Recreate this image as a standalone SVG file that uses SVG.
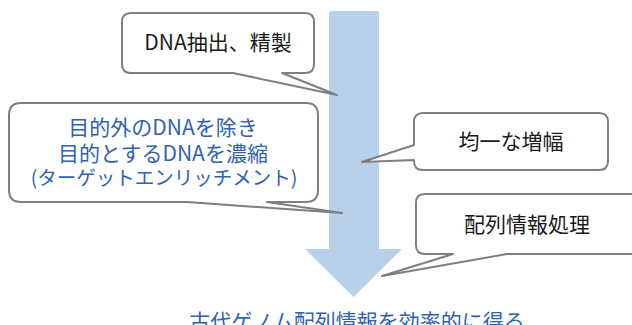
<svg xmlns="http://www.w3.org/2000/svg" width="632" height="325" viewBox="0 0 632 325">
<style>
.call{fill:#ffffff;stroke:#7f7f7f;stroke-width:2;stroke-linejoin:round}
.t{font-family:"Noto Sans CJK JP","Noto Sans",sans-serif;font-size:21px;text-anchor:middle}
.s{font-size:19.5px}
.k{fill:#1a1a1a}
.b{fill:#2f62b3}
</style>
<rect width="632" height="325" fill="#ffffff"/>
<g id="arrow">
<path d="M331,11 H377 Q379,11 379,13 V249 H402 L353.5,297 L305,249 H329 V13 Q329,11 331,11 Z" fill="#b8d0ea"/>
</g>
<g id="connectors"/>
<g id="n1">
<path class="call" d="M131,13 H305 Q314,13 314,22 V64 Q314,73 305,73 H282 L337,95 L233,73 H131 Q122,73 122,64 V22 Q122,13 131,13 Z"/>
<text class="t k" x="218" y="50">DNA抽出、精製</text>
</g>
<g id="n2">
<path class="call" d="M21,103 H306 Q318,103 318,115 V190 Q318,202 306,202 H267 L342,213 L187,202 H21 Q9,202 9,190 V115 Q9,103 21,103 Z"/>
<text class="t b" x="163" y="135">目的外のDNAを除き</text>
<text class="t b" x="163" y="161">目的とするDNAを濃縮</text>
<text class="t b s" x="164" y="185">(ターゲットエンリッチメント)</text>
</g>
<g id="n3">
<path class="call" d="M423,113 H599 Q608,113 608,122 V161 Q608,170 599,170 H423 Q414,170 414,161 V160 L362,162 L414,145 V122 Q414,113 423,113 Z"/>
<text class="t k" x="511" y="149">均一な増幅</text>
</g>
<g id="n4">
<path class="call" d="M425,194 H640 V254 H507 L382,276 L453,254 H425 Q416,254 416,245 V203 Q416,194 425,194 Z"/>
<text class="t k" x="527" y="232">配列情報処理</text>
</g>
<g id="result">
<text class="t b" x="357" y="329">古代ゲノム配列情報を効率的に得る</text>
</g>
</svg>
